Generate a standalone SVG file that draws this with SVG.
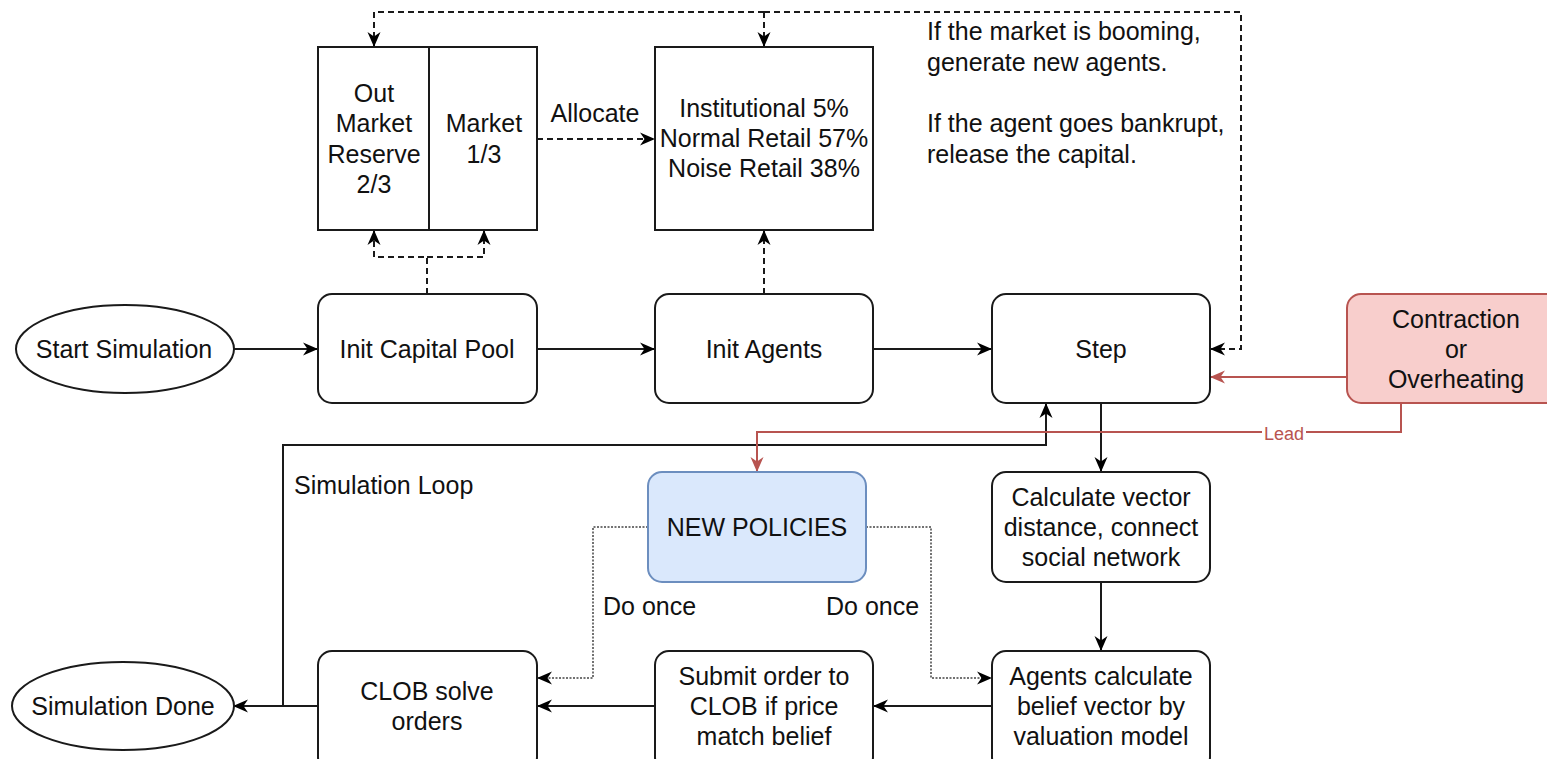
<svg xmlns="http://www.w3.org/2000/svg" width="1547" height="759" viewBox="0 0 1547 759">
  <style>
    .box { fill: #ffffff; stroke: #1a1a1a; stroke-width: 2; }
    .pol { fill: #dae8fc; stroke: #6c8ebf; stroke-width: 2; }
    .hot { fill: #f8cecc; stroke: #b85450; stroke-width: 2; }
    .t { font-family: "Liberation Sans", Arial, sans-serif; font-size: 25px; fill: #111; text-anchor: middle; }
    .tl { font-family: "Liberation Sans", Arial, sans-serif; font-size: 25px; fill: #111; text-anchor: start; }
    .lead { font-family: "Liberation Sans", Arial, sans-serif; font-size: 18px; fill: #b85450; text-anchor: middle; }
    .e { fill: none; stroke: #1a1a1a; stroke-width: 2; }
    .dash { stroke-dasharray: 6 4; }
    .dot { stroke-width: 1.5; stroke-dasharray: 2 1.5; stroke: #444; }
    .red { fill: none; stroke: #b85450; stroke-width: 2; }
  </style>
  <defs>
    <marker id="ah" markerUnits="userSpaceOnUse" markerWidth="16" markerHeight="16" viewBox="0 0 16 16" refX="15" refY="8" orient="auto">
      <path d="M0,1.5 L15,8 L0,14.5 L4.5,8 z" fill="#000"/>
    </marker>
    <marker id="ahr" markerUnits="userSpaceOnUse" markerWidth="16" markerHeight="16" viewBox="0 0 16 16" refX="15" refY="8" orient="auto">
      <path d="M0,1.5 L15,8 L0,14.5 L4.5,8 z" fill="#b85450"/>
    </marker>
  </defs>
  <rect width="1547" height="759" fill="#ffffff"/>

  <!-- connectors -->
  <g id="connectors">
    <!-- main flow -->
    <line class="e" x1="234" y1="349" x2="318" y2="349" marker-end="url(#ah)"/>
    <line class="e" x1="537" y1="349" x2="655" y2="349" marker-end="url(#ah)"/>
    <line class="e" x1="873" y1="349" x2="992" y2="349" marker-end="url(#ah)"/>
    <line class="e" x1="1101" y1="403" x2="1101" y2="472" marker-end="url(#ah)"/>
    <line class="e" x1="1101" y1="582" x2="1101" y2="651" marker-end="url(#ah)"/>
    <line class="e" x1="992" y1="706" x2="873" y2="706" marker-end="url(#ah)"/>
    <line class="e" x1="655" y1="706" x2="537" y2="706" marker-end="url(#ah)"/>
    <line class="e" x1="318" y1="706" x2="233" y2="706" marker-end="url(#ah)"/>
    <!-- simulation loop back to Step -->
    <polyline class="e" points="283,706 283,445 1046,445 1046,403" marker-end="url(#ah)"/>

    <!-- capital pool splits -->
    <polyline class="e dash" points="427,294 427,257 374,257 374,230" marker-end="url(#ah)"/>
    <polyline class="e dash" points="427,257 484,257 484,230" marker-end="url(#ah)"/>
    <line class="e dash" x1="764" y1="294" x2="764" y2="230" marker-end="url(#ah)"/>
    <line class="e dash" x1="537" y1="139" x2="655" y2="139" marker-end="url(#ah)"/>

    <!-- step feedback over the top -->
    <polyline class="e dash" points="764,12 1241,12 1241,349 1210,349" marker-end="url(#ah)"/>
    <polyline class="e dash" points="764,12 374,12 374,47" marker-end="url(#ah)"/>
    <line class="e dash" x1="764" y1="12" x2="764" y2="47" marker-end="url(#ah)"/>

    <!-- policy branches -->
    <polyline class="e dot" points="648,527 593,527 593,678 537,678" marker-end="url(#ah)"/>
    <polyline class="e dot" points="866,527 931,527 931,678 992,678" marker-end="url(#ah)"/>

    <!-- red links -->
    <line class="red" x1="1347" y1="377" x2="1210" y2="377" marker-end="url(#ahr)"/>
    <polyline class="red" points="1401,403 1401,432 757,432 757,472" marker-end="url(#ahr)"/>
    <rect x="1262" y="423" width="44" height="19" fill="#ffffff"/>
    <text class="lead" x="1284" y="440">Lead</text>

    <!-- edge labels -->
    <text class="t" x="595" y="122">Allocate</text>
    <text class="tl" x="294" y="494">Simulation Loop</text>
    <text class="tl" x="603" y="615">Do once</text>
    <text class="tl" x="826" y="615">Do once</text>
  </g>

  <!-- nodes -->
  <g id="start">
    <ellipse class="box" cx="125" cy="349" rx="109" ry="44"/>
    <text class="t" x="124" y="358">Start Simulation</text>
  </g>
  <g id="init-capital">
    <rect class="box" x="318" y="294" width="219" height="109" rx="14"/>
    <text class="t" x="427" y="358">Init Capital Pool</text>
  </g>
  <g id="init-agents">
    <rect class="box" x="655" y="294" width="218" height="109" rx="14"/>
    <text class="t" x="764" y="358">Init Agents</text>
  </g>
  <g id="step">
    <rect class="box" x="992" y="294" width="218" height="109" rx="14"/>
    <text class="t" x="1101" y="358">Step</text>
  </g>
  <g id="contraction">
    <rect class="hot" x="1347" y="294" width="215" height="109" rx="14"/>
    <text class="t" x="1456" y="328">Contraction</text>
    <text class="t" x="1456" y="358">or</text>
    <text class="t" x="1456" y="388">Overheating</text>
  </g>
  <g id="capital-split">
    <rect class="box" x="318" y="47" width="219" height="183"/>
    <line class="e" x1="429" y1="47" x2="429" y2="230"/>
    <text class="t" x="374" y="102">Out</text>
    <text class="t" x="374" y="132">Market</text>
    <text class="t" x="374" y="163">Reserve</text>
    <text class="t" x="374" y="193">2/3</text>
    <text class="t" x="484" y="132">Market</text>
    <text class="t" x="484" y="163">1/3</text>
  </g>
  <g id="agent-mix">
    <rect class="box" x="655" y="47" width="218" height="183"/>
    <text class="t" x="764" y="117">Institutional 5%</text>
    <text class="t" x="764" y="147">Normal Retail 57%</text>
    <text class="t" x="764" y="177">Noise Retail 38%</text>
  </g>
  <g id="note">
    <text class="tl" x="927" y="40">If the market is booming,</text>
    <text class="tl" x="927" y="71">generate new agents.</text>
    <text class="tl" x="927" y="132">If the agent goes bankrupt,</text>
    <text class="tl" x="927" y="163">release the capital.</text>
  </g>
  <g id="calc-vector">
    <rect class="box" x="992" y="472" width="218" height="110" rx="14"/>
    <text class="t" x="1101" y="506">Calculate vector</text>
    <text class="t" x="1101" y="536">distance, connect</text>
    <text class="t" x="1101" y="566">social network</text>
  </g>
  <g id="new-policies">
    <rect class="pol" x="648" y="472" width="218" height="110" rx="14"/>
    <text class="t" x="757" y="536">NEW POLICIES</text>
  </g>
  <g id="belief">
    <rect class="box" x="992" y="651" width="218" height="120" rx="14"/>
    <text class="t" x="1101" y="685">Agents calculate</text>
    <text class="t" x="1101" y="715">belief vector by</text>
    <text class="t" x="1101" y="745">valuation model</text>
  </g>
  <g id="submit">
    <rect class="box" x="655" y="651" width="218" height="120" rx="14"/>
    <text class="t" x="764" y="685">Submit order to</text>
    <text class="t" x="764" y="715">CLOB if price</text>
    <text class="t" x="764" y="745">match belief</text>
  </g>
  <g id="clob">
    <rect class="box" x="318" y="651" width="219" height="120" rx="14"/>
    <text class="t" x="427" y="700">CLOB solve</text>
    <text class="t" x="427" y="730">orders</text>
  </g>
  <g id="done">
    <ellipse class="box" cx="123" cy="706" rx="111" ry="44"/>
    <text class="t" x="123" y="715">Simulation Done</text>
  </g>
</svg>
